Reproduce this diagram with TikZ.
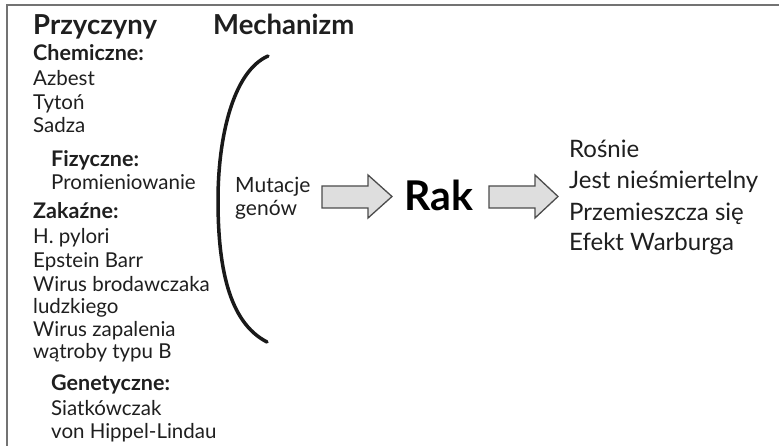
\documentclass[tikz,border=0pt]{standalone}
\usepackage{fontspec}
\setmainfont{Lato}
\begin{document}
\begin{tikzpicture}[x=1pt,y=-1pt,
  txt/.style={anchor=base west,inner sep=0pt,text=black!88},
  hd/.style={txt,font=\fontsize{27.5}{30}\selectfont\bfseries},
  sub/.style={txt,font=\fontsize{21.5}{24}\selectfont\bfseries},
  item/.style={txt,font=\fontsize{20.5}{23}\selectfont},
  res/.style={txt,font=\fontsize{24}{26}\selectfont},
  fat/.style={draw=black!70,fill=black!13,line width=1.3pt,line join=miter}]
\useasboundingbox (0,0) rectangle (779,446);
\fill[white] (0,0) rectangle (779,446);
\draw[black!55,line width=2pt] (7,446) -- (7,5) -- (779,5);
% headings
\node[hd] (h1) at (33,35) {Przyczyny};
\node[hd] (h2) at (213,35) {Mechanizm};
% causes
\node[sub] (c1) at (33,61) {Chemiczne:};
\node[item] (c2) at (33,86) {Azbest};
\node[item] (c3) at (33,110) {Tytoń};
\node[item] (c4) at (33,133) {Sadza};
\node[sub] (f1) at (51,167) {Fizyczne:};
\node[item] (f2) at (51,190) {Promieniowanie};
\node[sub] (z1) at (33,219) {Zakaźne:};
\node[item] (z2) at (33,244) {H. pylori};
\node[item] (z3) at (33,268) {Epstein Barr};
\node[item] (z4) at (33,291) {Wirus brodawczaka};
\node[item] (z5) at (33,313) {ludzkiego};
\node[item] (z6) at (33,336) {Wirus zapalenia};
\node[item] (z7) at (33,358) {wątroby typu B};
\node[sub] (g1) at (51,390) {Genetyczne:};
\node[item] (g2) at (51,415) {Siatkówczak};
\node[item] (g3) at (51,438) {von Hippel-Lindau};
% bracket
\draw[black!90,line width=3.5pt,line cap=round]
  (268,56) .. controls (232,72) and (218,140) .. (218,200)
  .. controls (218,265) and (228,322) .. (267,342);
% mechanism
\node[item,font=\fontsize{21}{23}\selectfont] (m1) at (235,193) {Mutacje};
\node[item,font=\fontsize{21}{23}\selectfont] (m2) at (235,216) {genów};
\draw[fat] (322,186) -- (368,186) -- (368,175) -- (392,196.5) -- (368,218) -- (368,208) -- (322,208) -- cycle;
\node[txt,font=\fontsize{41}{44}\selectfont\bfseries,text=black] (rak) at (404,211) {Rak};
\draw[fat] (489,186) -- (535,186) -- (535,175) -- (558,196.5) -- (535,218) -- (535,208) -- (489,208) -- cycle;
% results
\node[res] (r1) at (569,158) {Rośnie};
\node[res] (r2) at (569,189) {Jest nieśmiertelny};
\node[res] (r3) at (569,221) {Przemieszcza się};
\node[res] (r4) at (569,251) {Efekt Warburga};
\end{tikzpicture}
\end{document}
